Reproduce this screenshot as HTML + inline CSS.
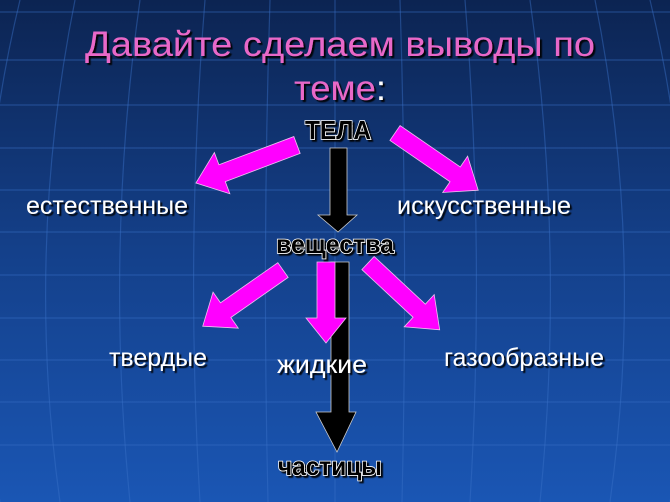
<!DOCTYPE html>
<html><head><meta charset="utf-8"><style>
html,body{margin:0;padding:0;width:670px;height:502px;overflow:hidden;background:#12306a}
svg{display:block}
text{font-family:"Liberation Sans",sans-serif}
</style></head><body>
<svg width="670" height="502" viewBox="0 0 670 502" xmlns="http://www.w3.org/2000/svg">
<defs>
<linearGradient id="bg" x1="0" y1="0" x2="0" y2="1">
<stop offset="0" stop-color="#0c2452"/>
<stop offset="0.5" stop-color="#14408a"/>
<stop offset="1" stop-color="#1a56b4"/>
</linearGradient>
<filter id="sh"><feDropShadow dx="2" dy="2" stdDeviation="0.6" flood-color="#000" flood-opacity="0.9"/></filter>
</defs>
<rect width="670" height="502" fill="url(#bg)"/>
<g stroke="#3a70c8" stroke-opacity="0.45" stroke-width="1.2" fill="none">
<path d="M0 12H670M0 60H670M0 105H670M0 148H670M0 190H670M0 232H670M0 275H670M0 318H670M0 360H670M0 402H670M0 445H670"/>
<path d="M335 0V502M270 0Q262 250 268 502M400 0Q408 250 402 502M205 0Q185 250 200 502M465 0Q485 250 470 502M140 0Q105 250 130 502M530 0Q565 250 540 502M75 0Q25 250 60 502M595 0Q645 250 610 502M20 0Q-40 250 0 502M650 0Q710 250 670 502"/>
</g>
<g filter="url(#sh)" fill="#e868c8" font-size="35" text-anchor="middle">
<text x="340" y="56" textLength="510" lengthAdjust="spacingAndGlyphs">Давайте сделаем выводы по</text>
<text x="340" y="100" textLength="92" lengthAdjust="spacingAndGlyphs">теме<tspan fill="#fff">:</tspan></text>
</g>
<g fill="#ff00ff" stroke="#f0c0f0" stroke-width="0.8">
<polygon transform="translate(297,145) rotate(159.4)" points="0,-9 80,-9 80,-22 108,0 80,22 80,9 0,9"/>
<polygon transform="translate(395,133) rotate(34.5)" points="0,-9 73,-9 73,-22 101,0 73,22 73,9 0,9"/>
<polygon transform="translate(283,270) rotate(145)" points="0,-9 70,-9 70,-22 98,0 70,22 70,9 0,9"/>
<polygon transform="translate(368,263) rotate(43)" points="0,-9 70,-9 70,-22 98,0 70,22 70,9 0,9"/>
</g>
<polygon fill="#000" stroke="#ccc" stroke-width="0.8" points="330,148 347,148 347,215 357,215 338,232 318,215 330,215"/>
<polygon fill="#000" stroke="#ccc" stroke-width="0.8" points="331,262 349,262 349,412 356,412 337,452 316,412 331,412"/>
<polygon fill="#ff00ff" stroke="#f0c0f0" stroke-width="0.8" points="317,262 335,262 335,318 346,318 326,343 306,318 317,318"/>
<g font-size="25" fill="#fff" filter="url(#sh)" text-anchor="middle">
<text x="107" y="214" textLength="162" lengthAdjust="spacingAndGlyphs">естественные</text>
<text x="484" y="214" textLength="174" lengthAdjust="spacingAndGlyphs">искусственные</text>
<text x="158" y="366" textLength="98" lengthAdjust="spacingAndGlyphs">твердые</text>
<text x="322" y="373" textLength="90" lengthAdjust="spacingAndGlyphs">жидкие</text>
<text x="524" y="366" textLength="160" lengthAdjust="spacingAndGlyphs">газообразные</text>
</g>
<g font-size="26" font-weight="bold" fill="#000" stroke="#fff" stroke-width="1.6" paint-order="stroke" text-anchor="middle" filter="url(#sh)">
<text x="338" y="139" textLength="66" lengthAdjust="spacingAndGlyphs">ТЕЛА</text>
<text x="335" y="253" textLength="118" lengthAdjust="spacingAndGlyphs">вещества</text>
<text x="330" y="475" textLength="104" lengthAdjust="spacingAndGlyphs">частицы</text>
</g>
</svg>
</body></html>
